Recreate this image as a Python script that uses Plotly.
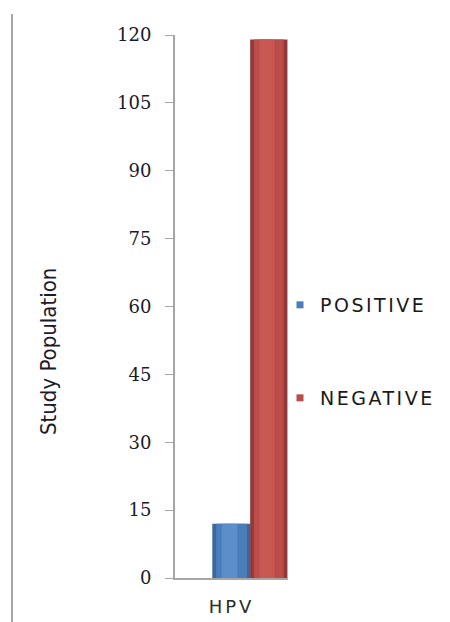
import plotly.graph_objects as go

categories = ["HPV"]
positive = [12]
negative = [119]
y_ticks = [0, 15, 30, 45, 60, 75, 90, 105, 120]
y_tick_labels = ["0", "15", "30", "45", "60", "75", "90", "105", "120"]

# plot-area geometry (figure px): body margin of 8px is compensated
W, H = 442, 614
L, R, T, B = 167, 162, 27, 44
pw = W - L - R
ph = H - T - B

fig = go.Figure()

def spaced(s, px):
    return f'<span style="letter-spacing:{px}px">{s}</span>'

def cylinder(vals, name, offset, width, edge, mid, hi, legend):
    fig.add_trace(go.Bar(x=categories, y=vals, name=name, width=width, offset=offset,
                         marker=dict(color=edge, line=dict(width=0)),
                         legend=legend, showlegend=False, hoverinfo="skip"))
    fig.add_trace(go.Bar(x=categories, y=vals, name=name, width=width * 0.8,
                         offset=offset + width * 0.1,
                         marker=dict(color=mid, line=dict(width=0)),
                         legend=legend, showlegend=False, hoverinfo="skip"))
    fig.add_trace(go.Bar(x=categories, y=vals, name=name, width=width * 0.4,
                         offset=offset + width * 0.25,
                         marker=dict(color=hi, line=dict(width=0)),
                         legend=legend, showlegend=False, hoverinfo="skip"))
    # legend entry: small square marker
    fig.add_trace(go.Scatter(x=categories, y=[None], name=spaced(name, 2.5), mode="markers",
                             marker=dict(symbol="square", size=7, color=mid),
                             legend=legend, showlegend=True, hoverinfo="skip"))

cylinder(positive, "POSITIVE", -0.17, 0.34, "#3B679C", "#4A7DBA", "#5B8FCC", "legend")
cylinder(negative, "NEGATIVE", 0.165, 0.33, "#93393A", "#BA4C49", "#C95855", "legend2")

legend_font = dict(family="DejaVu Sans", size=19, color="#1a1a1a")
lx = (272 - L) / pw

fig.update_layout(
    width=W, height=H,
    margin=dict(l=L, r=R, t=T, b=B, autoexpand=False),
    paper_bgcolor="white", plot_bgcolor="white",
    barmode="overlay",
    showlegend=True,
    legend=dict(x=lx, y=(570 - 297) / ph, xanchor="left", yanchor="middle",
                font=legend_font, itemwidth=30, itemsizing="trace", bgcolor="rgba(0,0,0,0)"),
    legend2=dict(x=lx, y=(570 - 390) / ph, xanchor="left", yanchor="middle",
                 font=legend_font, itemwidth=30, itemsizing="trace", bgcolor="rgba(0,0,0,0)"),
    xaxis=dict(
        type="category", range=[-0.5, 0.5], automargin=False,
        tickvals=categories, ticktext=[spaced(c, 3) for c in categories],
        showline=True, linecolor="#A6A6A6", linewidth=2,
        ticks="", showgrid=False,
        tickfont=dict(family="DejaVu Sans", size=18, color="#2a2a2a"),
        ticklabelstandoff=11,
    ),
    yaxis=dict(
        range=[0, 120], tickvals=y_ticks, ticktext=y_tick_labels, automargin=False,
        showline=True, linecolor="#A6A6A6", linewidth=2,
        ticks="outside", ticklen=8, tickcolor="#A6A6A6", tickwidth=1,
        showgrid=False, zeroline=False,
        tickfont=dict(family="DejaVu Serif", size=18, color="#1a1a2a"),
        ticklabelstandoff=10,
    ),
    annotations=[dict(
        text="Study Population", textangle=-90,
        xref="paper", yref="paper",
        x=(40 - L) / pw, y=(570 - 344) / ph,
        xanchor="center", yanchor="middle", showarrow=False,
        font=dict(family="Liberation Sans Narrow, DejaVu Sans Condensed", size=22, color="#1a1a2a"),
    )],
    shapes=[dict(
        type="line", xref="paper", yref="paper",
        x0=(4 - L) / pw, x1=(4 - L) / pw,
        y0=-0.1, y1=(570 - 6) / ph,
        line=dict(color="#A6A6A6", width=2),
    )],
)

fig.write_html("out.html")
